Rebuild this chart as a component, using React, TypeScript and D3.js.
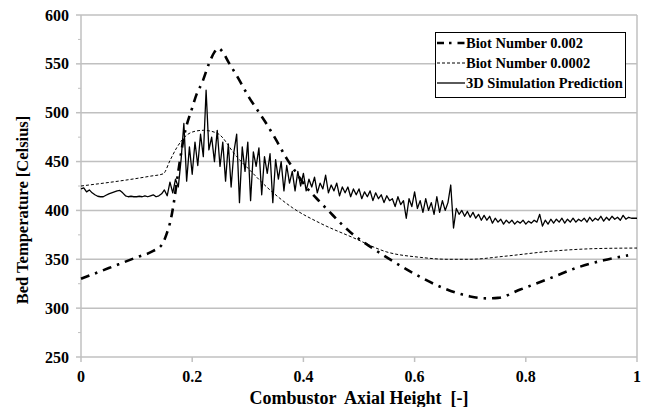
import React from "react";
import * as d3 from "d3";

const W = 648;
const H = 407;

const xTicks = [0, 0.2, 0.4, 0.6, 0.8, 1];
const xTickLabels = ["0", "0.2", "0.4", "0.6", "0.8", "1"];
const yTicks = [250, 300, 350, 400, 450, 500, 550, 600];
const yMinorTicks = [275, 325, 375, 425, 475, 525, 575];

const seriesNames = ["Biot Number 0.002", "Biot Number 0.0002", "3D Simulation Prediction"];

// Biot Number 0.002 (dash-dot)
const biot2X = [0, 0.05, 0.1, 0.13, 0.145, 0.154, 0.162, 0.166, 0.175, 0.185, 0.2, 0.208, 0.218, 0.23, 0.24, 0.247, 0.255, 0.265, 0.28, 0.291, 0.303, 0.317, 0.331, 0.345, 0.357, 0.37, 0.383, 0.405, 0.431, 0.448, 0.466, 0.484, 0.502, 0.52, 0.55, 0.6, 0.65, 0.7, 0.73, 0.75, 0.79, 0.85, 0.89, 0.94, 0.984];
const biot2T = [330, 341, 352, 358.5, 364.5, 376, 392, 404.5, 440, 475, 505, 519, 531, 550, 562, 566, 562, 552, 538, 527, 515, 503, 491, 478, 466, 453, 442, 424, 408, 398, 387.5, 378, 370, 363, 352, 335, 321, 312, 310, 310.5, 319, 332, 341, 349, 354];

// Biot Number 0.0002 (dashed)
const biot02X = [0, 0.124, 0.148, 0.16, 0.172, 0.19, 0.205, 0.22, 0.245, 0.28, 0.304, 0.334, 0.381, 0.43, 0.49, 0.55, 0.61, 0.66, 0.7, 0.76, 0.85, 0.93, 1.0];
const biot02T = [425, 435, 437.5, 451, 464, 477, 481, 482, 479, 455, 441, 424, 402.5, 387, 372, 357.5, 352, 350, 350, 353, 358.5, 361, 361.5];

// 3D Simulation Prediction, sampled every 0.005 from 0 to 1
const simStep = 0.005;
const simT = [
  422, 423, 419, 421, 418, 416, 414.5, 414, 414, 415.5,
  417, 418, 419, 420, 420.5, 418, 415, 414, 414.5, 414,
  414, 414.5, 414, 415, 414, 415, 416, 414, 415, 417,
  421, 415, 429, 418, 432, 424, 452, 489, 430, 465,
  437, 470, 446, 478, 455, 523, 462, 475, 450, 482,
  445, 470, 430, 468, 424, 460, 478, 408, 465, 440,
  470, 410, 460, 445, 464, 416, 455, 438, 458, 408,
  452, 432, 450, 420, 446, 428, 440, 420, 440, 425,
  438, 420, 432, 424, 434, 418, 428, 422, 436, 418,
  426, 420, 428, 415, 424, 418, 424, 414, 422, 416,
  422, 412, 419, 414, 420, 410, 418, 412, 416, 408,
  415, 410, 412, 404, 414, 406, 410, 392, 412, 404,
  419, 402, 410, 398, 412, 400, 408, 396, 414, 398,
  410, 400, 408, 426, 382, 402, 396, 400, 394, 399,
  393, 398, 392, 396, 390, 395, 390, 394, 387, 392,
  388, 391, 386, 390, 387, 390, 386, 389, 387, 390,
  386, 389, 387, 390, 388, 396, 384, 390, 386, 391,
  387, 391, 388, 392, 387, 391, 388, 392, 388, 391,
  389, 392, 388, 393, 389, 392, 390, 394, 389, 393,
  390, 394, 391, 393, 390, 395, 391, 393, 392, 392,
  392,
];

const FONT = "'Liberation Serif', 'Times New Roman', serif";

export default function App() {
  const x = d3.scaleLinear().domain([0, 1]).range([81, 637]);
  const y = d3.scaleLinear().domain([250, 600]).range([357, 15]);

  const biot2 = biot2X.map((v, i) => [v, biot2T[i]] as [number, number]);
  const biot02 = biot02X.map((v, i) => [v, biot02T[i]] as [number, number]);
  const sim = simT.map((t, i) => [i * simStep, t] as [number, number]);

  const smooth = d3
    .line<[number, number]>()
    .x((d) => x(d[0]))
    .y((d) => y(d[1]))
    .curve(d3.curveMonotoneX);
  const straight = d3
    .line<[number, number]>()
    .x((d) => x(d[0]))
    .y((d) => y(d[1]));

  const grid = "#c0c0c0";
  const lx = 436;
  const legendRows = [43, 63, 83];
  const styles = [
    { w: 2.6, dash: "7,5,2.5,6" },
    { w: 1, dash: "3,2" },
    { w: 1.3, dash: undefined as string | undefined },
  ];

  return (
    <svg
      width={W}
      height={H}
      style={{ position: "absolute", left: 0, top: 0, background: "#fff" }}
      fontFamily={FONT}
    >
      <rect x={0} y={0} width={W} height={H} fill="#fff" />
      {yTicks.map((t) => (
        <line key={t} x1={x(0)} x2={x(1)} y1={y(t)} y2={y(t)} stroke={grid} strokeWidth={1.5} />
      ))}
      <line x1={x(1)} x2={x(1)} y1={y(600)} y2={y(250)} stroke={grid} strokeWidth={1.5} />
      <line x1={x(0)} x2={x(0)} y1={y(600)} y2={y(250)} stroke={grid} strokeWidth={1.5} />
      {yTicks.map((t) => (
        <line key={"yt" + t} x1={x(0) - 5} x2={x(0)} y1={y(t)} y2={y(t)} stroke={grid} strokeWidth={1.5} />
      ))}
      {yMinorTicks.map((t) => (
        <line key={"ym" + t} x1={x(0) - 3} x2={x(0)} y1={y(t)} y2={y(t)} stroke={grid} strokeWidth={1} />
      ))}
      {xTicks.map((t) => (
        <line key={"xt" + t} x1={x(t)} x2={x(t)} y1={y(250)} y2={y(250) + 5} stroke={grid} strokeWidth={1.5} />
      ))}

      {yTicks.map((t) => (
        <text key={"yl" + t} x={69} y={y(t)} dy="0.35em" textAnchor="end" fontSize={16} fontWeight="bold">
          {t}
        </text>
      ))}
      {xTicks.map((t, i) => (
        <text key={"xl" + t} x={x(t)} y={376} dy="0.35em" textAnchor="middle" fontSize={16} fontWeight="bold">
          {xTickLabels[i]}
        </text>
      ))}

      <text x={359} y={398} dy="0.35em" textAnchor="middle" fontSize={18} fontWeight="bold" style={{ whiteSpace: "pre" }}>
        {"Combustor  Axial Height  [-]"}
      </text>
      <text
        transform={`translate(22,210) rotate(-90)`}
        dy="0.35em"
        textAnchor="middle"
        fontSize={16.5}
        fontWeight="bold"
      >
        Bed Temperature [Celsius]
      </text>

      <path d={straight(sim) || ""} fill="none" stroke="#000" strokeWidth={1.3} strokeLinejoin="round" />
      <path d={smooth(biot02) || ""} fill="none" stroke="#000" strokeWidth={1} strokeDasharray="3,2" />
      <path d={smooth(biot2) || ""} fill="none" stroke="#000" strokeWidth={2.6} strokeDasharray="9,6,2.5,6" />

      <rect x={435.5} y={32.5} width={190} height={65} fill="#fff" stroke="#000" strokeWidth={1} />
      {seriesNames.map((n, i) => (
        <g key={n}>
          <line
            x1={lx + 1}
            x2={lx + 29}
            y1={legendRows[i]}
            y2={legendRows[i]}
            stroke="#000"
            strokeWidth={styles[i].w}
            strokeDasharray={styles[i].dash}
          />
          <text x={lx + 30} y={legendRows[i]} dy="0.35em" fontSize={14.5} fontWeight="bold">
            {n}
          </text>
        </g>
      ))}
    </svg>
  );
}
